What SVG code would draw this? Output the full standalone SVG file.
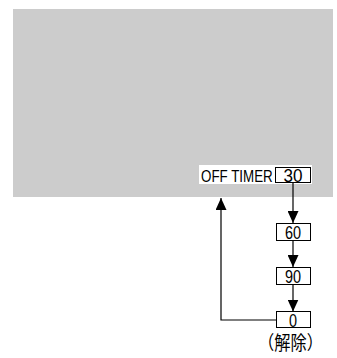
<svg xmlns="http://www.w3.org/2000/svg" width="337" height="358" viewBox="0 0 337 358">
<style>
.box{fill:#fff;stroke:#000;stroke-width:1}
.num{font-family:"Liberation Sans",Arial,sans-serif;font-size:19px;text-anchor:middle;fill:#000}
.ln{fill:none;stroke:#000;stroke-width:1.2}
</style>
<defs>
<marker id="ah" viewBox="0 0 12 11" refX="12" refY="5.5" markerWidth="12" markerHeight="11" markerUnits="userSpaceOnUse" orient="auto">
<path d="M0,0 L12,5.5 L0,11 Z" fill="#000"/>
</marker>
</defs>
<rect x="13" y="9" width="320" height="188" fill="#cccccc"/>
<g id="off-timer">
<rect x="199" y="165" width="113" height="19" fill="#fff"/>
<text transform="translate(201,182) scale(0.81,1)" x="0" y="0" font-family="Liberation Sans, Arial, sans-serif" font-size="16.5">OFF TIMER</text>
<rect class="box" x="275.5" y="167.5" width="35" height="15"/>
<text class="num" transform="translate(293,182) scale(0.9,1)" x="0" y="0" font-size="16">30</text>
</g>
<g id="n60">
<rect class="box" x="276.5" y="223.5" width="34" height="17"/>
<text class="num" transform="translate(293,239) scale(0.76,1)" x="0" y="0">60</text>
</g>
<g id="n90">
<rect class="box" x="276.5" y="267.5" width="34" height="17"/>
<text class="num" transform="translate(293,283) scale(0.76,1)" x="0" y="0">90</text>
</g>
<g id="n0">
<rect class="box" x="276.5" y="311.5" width="34" height="16"/>
<text class="num" transform="translate(293,326.5) scale(0.76,1)" x="0" y="0">0</text>
<text transform="translate(290.5,350) scale(0.855,1)" x="0" y="0" font-family="Noto Sans CJK JP, sans-serif" font-size="19" text-anchor="middle">（解除）</text>
</g>
<g id="connectors">
<line class="ln" x1="293" y1="183" x2="293" y2="223" marker-end="url(#ah)"/>
<line class="ln" x1="293" y1="241" x2="293" y2="267" marker-end="url(#ah)"/>
<line class="ln" x1="293" y1="285" x2="293" y2="311.5" marker-end="url(#ah)"/>
<polyline class="ln" points="276.5,320 221,320 221,198" marker-end="url(#ah)"/>
</g>
</svg>
